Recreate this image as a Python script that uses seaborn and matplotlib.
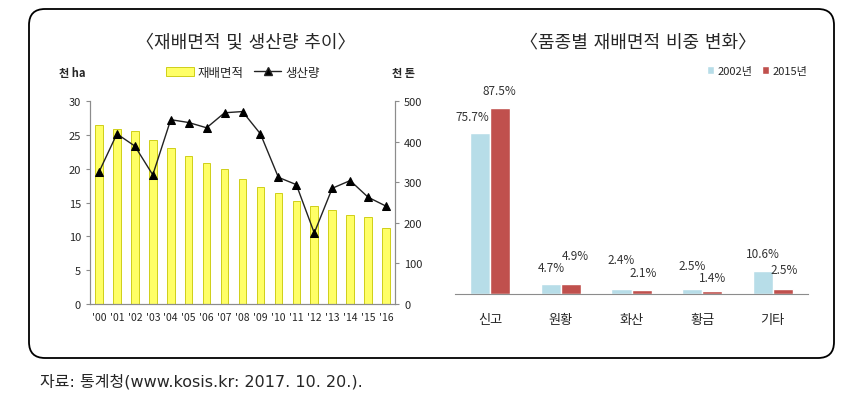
import numpy as np
import pandas as pd
import matplotlib.pyplot as plt
import seaborn as sns
from matplotlib.patches import FancyBboxPatch, Patch
from matplotlib.lines import Line2D

sns.set_style('white')
plt.rcParams['font.family'] = ['Noto Sans CJK KR', 'DejaVu Sans']

# ── 데이터 ────────────────────────────────────────────────────────────────
years = ["'00", "'01", "'02", "'03", "'04", "'05", "'06", "'07", "'08",
         "'09", "'10", "'11", "'12", "'13", "'14", "'15", "'16"]
area = [26.4, 25.9, 25.6, 24.2, 23.0, 21.9, 20.9, 20.0, 18.5,
        17.3, 16.4, 15.2, 14.5, 13.9, 13.2, 12.8, 11.2]          # 천 ha
prod = [325, 419, 389, 318, 454, 447, 434, 471, 474,
        419, 312, 294, 175, 285, 304, 263, 241]                  # 천 톤

varieties = ['신고', '원황', '화산', '황금', '기타']
share_2002 = [75.7, 4.7, 2.4, 2.5, 10.6]
share_2015 = [87.5, 4.9, 2.1, 1.4, 2.5]

W, H = 848, 406
fig = plt.figure(figsize=(W / 100, H / 100), dpi=100)
wide = ['DejaVu Sans', 'Noto Sans CJK KR']

# 배경 박스 (픽셀 좌표)
bg = fig.add_axes([0, 0, 1, 1])
bg.set_xlim(0, W)
bg.set_ylim(H, 0)
bg.axis('off')
bg.add_patch(FancyBboxPatch((29, 10), 805, 349, boxstyle='round,pad=0,rounding_size=16',
                            fc='white', ec='black', lw=1.3))
bg.text(246, 42, '〈재배면적 및 생산량 추이〉', ha='center', va='center', fontsize=13, family=wide)
bg.text(638, 42, '〈품종별 재배면적 비중 변화〉', ha='center', va='center', fontsize=13, family=wide)
bg.text(40, 382, '자료: 통계청(www.kosis.kr: 2017. 10. 20.).', ha='left', va='center',
        fontsize=11.5, family=wide)
bg.text(72, 73, '천 ha', ha='center', va='center', fontsize=8, fontweight='bold')
bg.text(403, 73, '천 톤', ha='center', va='center', fontsize=8, fontweight='bold')

gray = '#8c8c8c'

# ── 왼쪽: 재배면적 + 생산량 ─────────────────────────────────────────────────
def px_axes(x0, x1, y0, y1):
    return fig.add_axes([x0 / W, (H - y1) / H, (x1 - x0) / W, (y1 - y0) / H])

ax = px_axes(90, 395, 102, 305)
df_area = pd.DataFrame({'year': years, 'area': area})
sns.barplot(data=df_area, x='year', y='area', color='#FFFF66', edgecolor='#C8C800',
            linewidth=0.6, width=0.42, saturation=1, ax=ax)
ax.set_ylim(0, 30)
ax.set_yticks(range(0, 31, 5))
ax.set_xlim(-0.5, len(years) - 0.5)
ax.set_xlabel('')
ax.set_ylabel('')
ax.set_xticks(np.arange(len(years)))
ax.set_xticklabels(years, fontsize=7.5)
ax.set_xticks(np.arange(-0.5, len(years), 1), minor=True)
ax.tick_params(axis='x', which='major', length=0, pad=6)
ax.tick_params(axis='x', which='minor', length=4, direction='inout', color=gray, width=0.8)
ax.tick_params(axis='y', labelsize=8, length=3, color=gray, width=0.8, left=True)
for s in ['left', 'right', 'bottom']:
    ax.spines[s].set_color(gray)
    ax.spines[s].set_linewidth(0.8)
ax.spines['top'].set_visible(False)

ax2 = ax.twinx()
sns.lineplot(x=np.arange(len(years)), y=prod, ax=ax2, color='#222222', lw=1.0,
             marker='^', markersize=6, markerfacecolor='black', markeredgecolor='black')
ax2.set_ylim(0, 500)
ax2.set_yticks(range(0, 501, 100))
ax2.tick_params(axis='y', labelsize=8, length=3, color=gray, width=0.8, right=True)
for s in ['left', 'right', 'bottom']:
    ax2.spines[s].set_color(gray)
    ax2.spines[s].set_linewidth(0.8)
ax2.spines['top'].set_visible(False)
ax2.set_ylabel('')

handles = [Patch(fc='#FFFF66', ec='#C8C800', lw=0.6),
           Line2D([], [], color='#222222', lw=1.0, marker='^', markersize=6, markerfacecolor='black')]
fig.legend(handles, ['재배면적', '생산량'], loc='center', bbox_to_anchor=(243 / W, 1 - 73 / H),
           ncol=2, frameon=False, fontsize=9, handlelength=2.2, handletextpad=0.3,
           columnspacing=0.8, borderaxespad=0)

# ── 오른쪽: 품종별 비중 ────────────────────────────────────────────────────
axr = px_axes(455, 808, 82, 295)
df_share = pd.DataFrame({
    'variety': varieties * 2,
    'share': share_2002 + share_2015,
    'year': ['2002년'] * len(varieties) + ['2015년'] * len(varieties),
})
sns.barplot(data=df_share, x='variety', y='share', hue='year',
            palette=['#B7DDE8', '#C0504D'], width=0.57, saturation=1, ax=axr)
axr.set_ylim(0, 100)
axr.set_xlim(-0.5, len(varieties) - 0.5)
axr.set_xlabel('')
axr.set_ylabel('')
axr.set_yticks([])
axr.set_xticks(np.arange(-0.5, len(varieties), 1), minor=True)
axr.tick_params(axis='x', which='major', length=0, labelsize=9.5, pad=14)
axr.tick_params(axis='x', which='minor', length=5, direction='inout', color=gray, width=0.8)
for s in ['left', 'right', 'top']:
    axr.spines[s].set_visible(False)
axr.spines['bottom'].set_color(gray)
axr.spines['bottom'].set_linewidth(0.8)

# 데이터 레이블 (엑셀 원본처럼 위치가 제각각)
label_off = {  # (dx, dy) in points
    '2002년': [(-6, 12), (0, 12), (0, 21), (0, 17), (0, 13)],
    '2015년': [(-1, 12), (3, 20), (1, 12), (0, 10), (1, 14)],
}
for cont, (yr, vals) in zip(axr.containers, [('2002년', share_2002), ('2015년', share_2015)]):
    for bar, v, (dx, dy) in zip(cont, vals, label_off[yr]):
        axr.annotate(f'{v:.1f}%', (bar.get_x() + bar.get_width() / 2, bar.get_height()),
                     xytext=(dx, dy), textcoords='offset points', ha='center', va='center',
                     fontsize=8.5, color='#333333')

axr.legend(loc='center', bbox_to_anchor=(757 / W, 1 - 72 / H), bbox_transform=fig.transFigure,
           ncol=2, frameon=False, fontsize=8, handlelength=0.7, handleheight=0.7,
           handletextpad=0.3, columnspacing=0.8, borderaxespad=0)

fig.savefig('out.png', dpi=100)
